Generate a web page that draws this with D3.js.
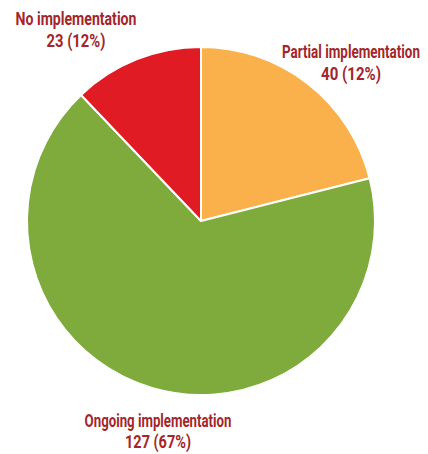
<!DOCTYPE html>
<html>
<head>
<meta charset="utf-8">
<script src="https://cdn.jsdelivr.net/npm/d3@7"></script>
<style>
  html, body { margin: 0; padding: 0; background: #fff; }
  svg text { font-family: "Liberation Sans Narrow", "Arial Narrow", Roboto, sans-serif; font-weight: bold; }
</style>
</head>
<body>
<svg id="chart" width="428" height="454"></svg>
<script>
// Implementation status counts
const categories = ["Partial implementation", "Ongoing implementation", "No implementation"];
const counts = [40, 127, 23];
const shareLabels = ["40 (12%)", "127 (67%)", "23 (12%)"];
const colors = ["#FBB14B", "#7EAB3B", "#E01B23"];

const svg = d3.select("#chart");
const cx = 201, cy = 221, radius = 174;

const pie = d3.pie().sort(null).value(d => d.value);
const data = categories.map((c, i) => ({ name: c, value: counts[i], label: shareLabels[i], color: colors[i] }));
const arcs = pie(data);
const arc = d3.arc().innerRadius(0).outerRadius(radius);

const g = svg.append("g").attr("transform", `translate(${cx},${cy})`);
g.selectAll("path")
  .data(arcs)
  .join("path")
  .attr("d", arc)
  .attr("fill", d => d.data.color)
  .attr("stroke", "#fff")
  .attr("stroke-width", 2)
  .attr("stroke-linejoin", "round");

// Label layout per slice: centre x, baselines of both lines, condensed line widths
const labelLayout = [
  { x: 351, y: [58, 80], w: [138, 60] },
  { x: 158, y: [427, 448], w: [147, 66] },
  { x: 76,  y: [25, 47],  w: [121, 59] }
];
const textColor = "#A3262A";
arcs.forEach((d, i) => {
  const L = labelLayout[i];
  [d.data.name, d.data.label].forEach((txt, j) => {
    const t = svg.append("text")
      .attr("text-anchor", "middle")
      .attr("fill", textColor)
      .attr("font-size", 19)
      .text(txt);
    // squeeze horizontally into a condensed face
    const natural = t.node().getComputedTextLength();
    const sx = L.w[j] / natural;
    t.attr("transform", `translate(${L.x},${L.y[j]}) scale(${sx},1)`);
  });
});
</script>
</body>
</html>
